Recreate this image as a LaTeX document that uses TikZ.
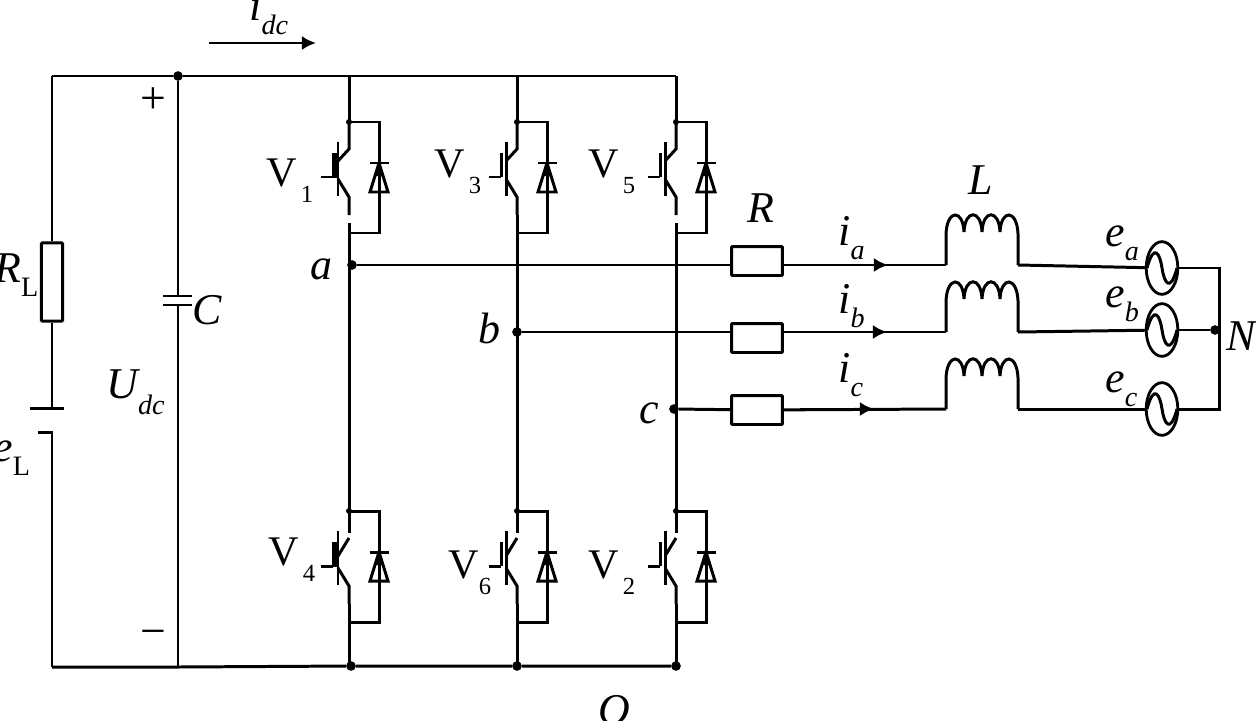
\documentclass[tikz,border=0pt]{standalone}
\usepackage{fontspec}
\setmainfont{Liberation Serif}
\usetikzlibrary{shapes.geometric,arrows.meta}
\newcommand{\mainsub}[3][-9.6pt]{{\fontsize{24}{24}\selectfont #2}\raisebox{#1}{\fontsize{14}{14}\selectfont #3}}
\newcommand{\itsub}[3][-8.5pt]{{\itshape\fontsize{25}{25}\selectfont #2\raisebox{#1}{\fontsize{16}{16}\selectfont #3}}}
\tikzset{
  wire/.style={line width=1.7pt},
  dot/.style={circle,fill=black,inner sep=0pt,minimum size=5.5pt},
  resbox/.style={draw,line width=1.7pt,minimum width=29pt,minimum height=16.5pt,inner sep=0pt,rounded corners=.5pt},
  source/.style={draw,ellipse,line width=1.6pt,minimum width=18pt,minimum height=30pt,inner sep=0pt},
  lbl/.style={anchor=base west,inner sep=0pt},
  flow/.style={wire,-{Latex[length=8pt,width=8pt]}},
  igbtbase/.pic={
    \draw[wire] (-11,20) -- (-11,74);
    \draw[wire] (-28,55) -- (-16,55);
    \draw[wire] (-11,57) -- (0,75) -- (0,93);
    \draw[wire] (0,101) -- (0,111) -- (30,111) -- (30,0) -- (0,0);
    \draw[wire] (21,41) -- (40,41);
    \draw[wire,line join=miter] (30,41) -- (21,70) -- (39,70) -- cycle;
    \fill (30,41) -- (25,54) -- (35,54) -- cycle;
    \fill (0,0) circle (3);
  },
  igbtup/.pic={
    \draw[wire] (0,0) -- (0,27) -- (-11,39);
  },
  igbtlow/.pic={
    \draw[wire] (0,0) -- (0,22);
    \draw[wire] (0,27) -- (-11,45);
    \draw[wire] (0,93) -- (0,101);
  },
  barthick/.pic={
    \fill (-17,31) rectangle (-11,56);
  },
  barhook/.pic={
    \draw[wire] (-16,55) -- (-16,31);
  },
  coilup/.pic={
    \draw[wire] (0,0) -- (0,-31)
      .. controls (1,-56) and (17,-56) .. (18,-33)
      .. controls (19,-56) and (35,-56) .. (36,-33)
      .. controls (37,-56) and (53,-56) .. (54,-33)
      .. controls (55,-56) and (71,-56) .. (72,-31) -- (72,0);
  },
  sine/.pic={
    \draw[wire] (-15,0) .. controls (-8,-26) and (-2,-14) .. (0,0)
      .. controls (2,14) and (8,26) .. (15,0);
  }
}
\begin{document}
\begin{tikzpicture}[x=0.02cm,y=-0.02cm]
  \useasboundingbox (0,0) rectangle (1256,720);

  % rails
  \coordinate (tl) at (52,76);
  \coordinate (bl) at (52,667);
  \node[dot] (tc) at (178,76) {};
  \coordinate (bc) at (178,667);
  \coordinate (t1) at (349,76);
  \coordinate (t2) at (517,76);
  \coordinate (t3) at (676,76);
  \node[dot] (b1) at (351,666) {};
  \node[dot] (b2) at (517,666) {};
  \node[dot] (b3) at (676,666) {};
  \draw[wire] (tl) -- (tc) -- (t1) -- (t2) -- (t3);
  \draw[wire] (bl) -- (bc) -- (b1) -- (b2) -- (b3);

  % load branch
  \node[resbox,minimum width=12pt,minimum height=44.5pt] (RL) at (52,282) {};
  \coordinate (p1) at (52,408);
  \coordinate (p2) at (52,432);
  \draw[wire] (tl) -- (RL) -- (p1);
  \draw[wire] (30,408) -- (64,408);
  \draw[wire] (38,432) -- (p2) -- (bl);

  % capacitor
  \coordinate (c1) at (178,296);
  \coordinate (c2) at (178,305);
  \draw[wire] (tc) -- (c1);
  \draw[wire] (c2) -- (bc);
  \draw[wire] (163,296) -- (192,296);
  \draw[wire] (163,305) -- (192,305);

  % bridge legs
  \foreach \x/\n in {349/1,517/2,676/3} {
    \draw[wire] (t\n) -- (\x,122);
    \draw[wire] (\x,233) -- (\x,511);
    \draw[wire] (\x,623) -- (\x,666);
    \pic at (\x,122) {igbtbase};
    \pic at (\x,122) {igbtup};
    \pic at (\x,511) {igbtbase};
    \pic at (\x,511) {igbtlow};
  }
  \foreach \x/\y in {349/122,349/511} {
    \pic at (\x,\y) {barthick};
  }
  \foreach \x/\y in {517/122,676/122,517/511,676/511} {
    \pic at (\x,\y) {barhook};
  }
  \draw[wire] (517,215) -- (517,223);

  % phases
  \node[dot] (a) at (352,265) {};
  \node[dot] (b) at (517,332) {};
  \node[dot] (c) at (674,409) {};
  \node[resbox] (Ra) at (757,261) {};
  \node[resbox] (Rb) at (757,338) {};
  \node[resbox] (Rc) at (757,410) {};
  \node[source] (ea) at (1162,268) {};
  \node[source] (eb) at (1162,330) {};
  \node[source] (ec) at (1162,409) {};
  \pic at (1162,268) {sine};
  \pic at (1162,330) {sine};
  \pic at (1162,409) {sine};
  \coordinate (Na) at (1219,268);
  \node[dot] (N0) at (1215,330) {};
  \coordinate (Nc) at (1219,409);
  \pic at (946,265) {coilup};
  \pic at (946,332) {coilup};
  \pic at (946,409) {coilup};
  \draw[wire] (a) -- (731,265);
  \draw[wire] (b) -- (731,332);
  \draw[wire] (c) -- (Rc);
  \draw[wire] (782,265) -- (946,265);
  \draw[wire] (782,332) -- (946,332);
  \draw[wire] (Rc) -- (946,409);
  \draw[flow] (800,265) -- (888,265);
  \draw[flow] (800,332) -- (887,332);
  \draw[flow] (800,409) -- (874,409);
  \draw[wire] (1018,265) -- (ea);
  \draw[wire] (1018,332) -- (eb);
  \draw[wire] (1018,409) -- (ec);
  \draw[wire] (ea) -- (Na) -- (Nc) -- (ec);
  \draw[wire] (eb) -- (N0);

  % dc current arrow
  \coordinate (ia) at (209,43);
  \coordinate (ib) at (316,43);
  \draw[flow] (ia) -- (ib);

  % labels
  \begin{scope}[every node/.style={lbl}]
    \node (v1) at (266,186) {\mainsub{V}{\,1}};
    \node (v3) at (434,177) {\mainsub{V}{\,3}};
    \node (v5) at (588,177) {\mainsub{V}{\,5}};
    \node (v4) at (268,565) {\mainsub{V}{\,4}};
    \node (v6) at (448,578) {\mainsub{V}{6}};
    \node (v2) at (588,578) {\mainsub{V}{\,2}};
    \node (la) at (310,279) {\itsub{a}{}};
    \node (lb) at (478,343) {\itsub{b}{}};
    \node (lc) at (639,423) {\itsub{c}{}};
    \node (lC) at (192,324) {\itsub{C}{}};
    \node (lU) at (106,398) {\itsub[-9.6pt]{U}{dc}};
    \node (lR) at (747,222) {\itsub{R}{}};
    \node (lL) at (968,194) {\itsub{L}{}};
    \node (lia) at (838,245) {\itsub{i}{a}};
    \node (lib) at (838,313) {\itsub{i}{b}};
    \node (lic) at (838,382) {\itsub{i}{c}};
    \node (lea) at (1105,246) {\itsub{e}{a}};
    \node (leb) at (1105,307) {\itsub{e}{b}};
    \node (lec) at (1105,392) {\itsub{e}{c}};
    \node (lN) at (1226,350) {\itsub{N}{}};
    \node (lO) at (598,724) {\itsub{O}{}};
    \node (lidc) at (249,20) {\itsub{i}{dc}};
    \node (lRL) at (-6,282) {\itsub{R}{\upshape L}};
    \node (leL) at (-7,461) {\itsub{e}{\upshape L}};
    \node (plus) at (140,113) {\fontsize{26}{26}\selectfont +};
    \node (minus) at (140,646) {\fontsize{26}{26}\selectfont −};
  \end{scope}
\end{tikzpicture}
\end{document}
